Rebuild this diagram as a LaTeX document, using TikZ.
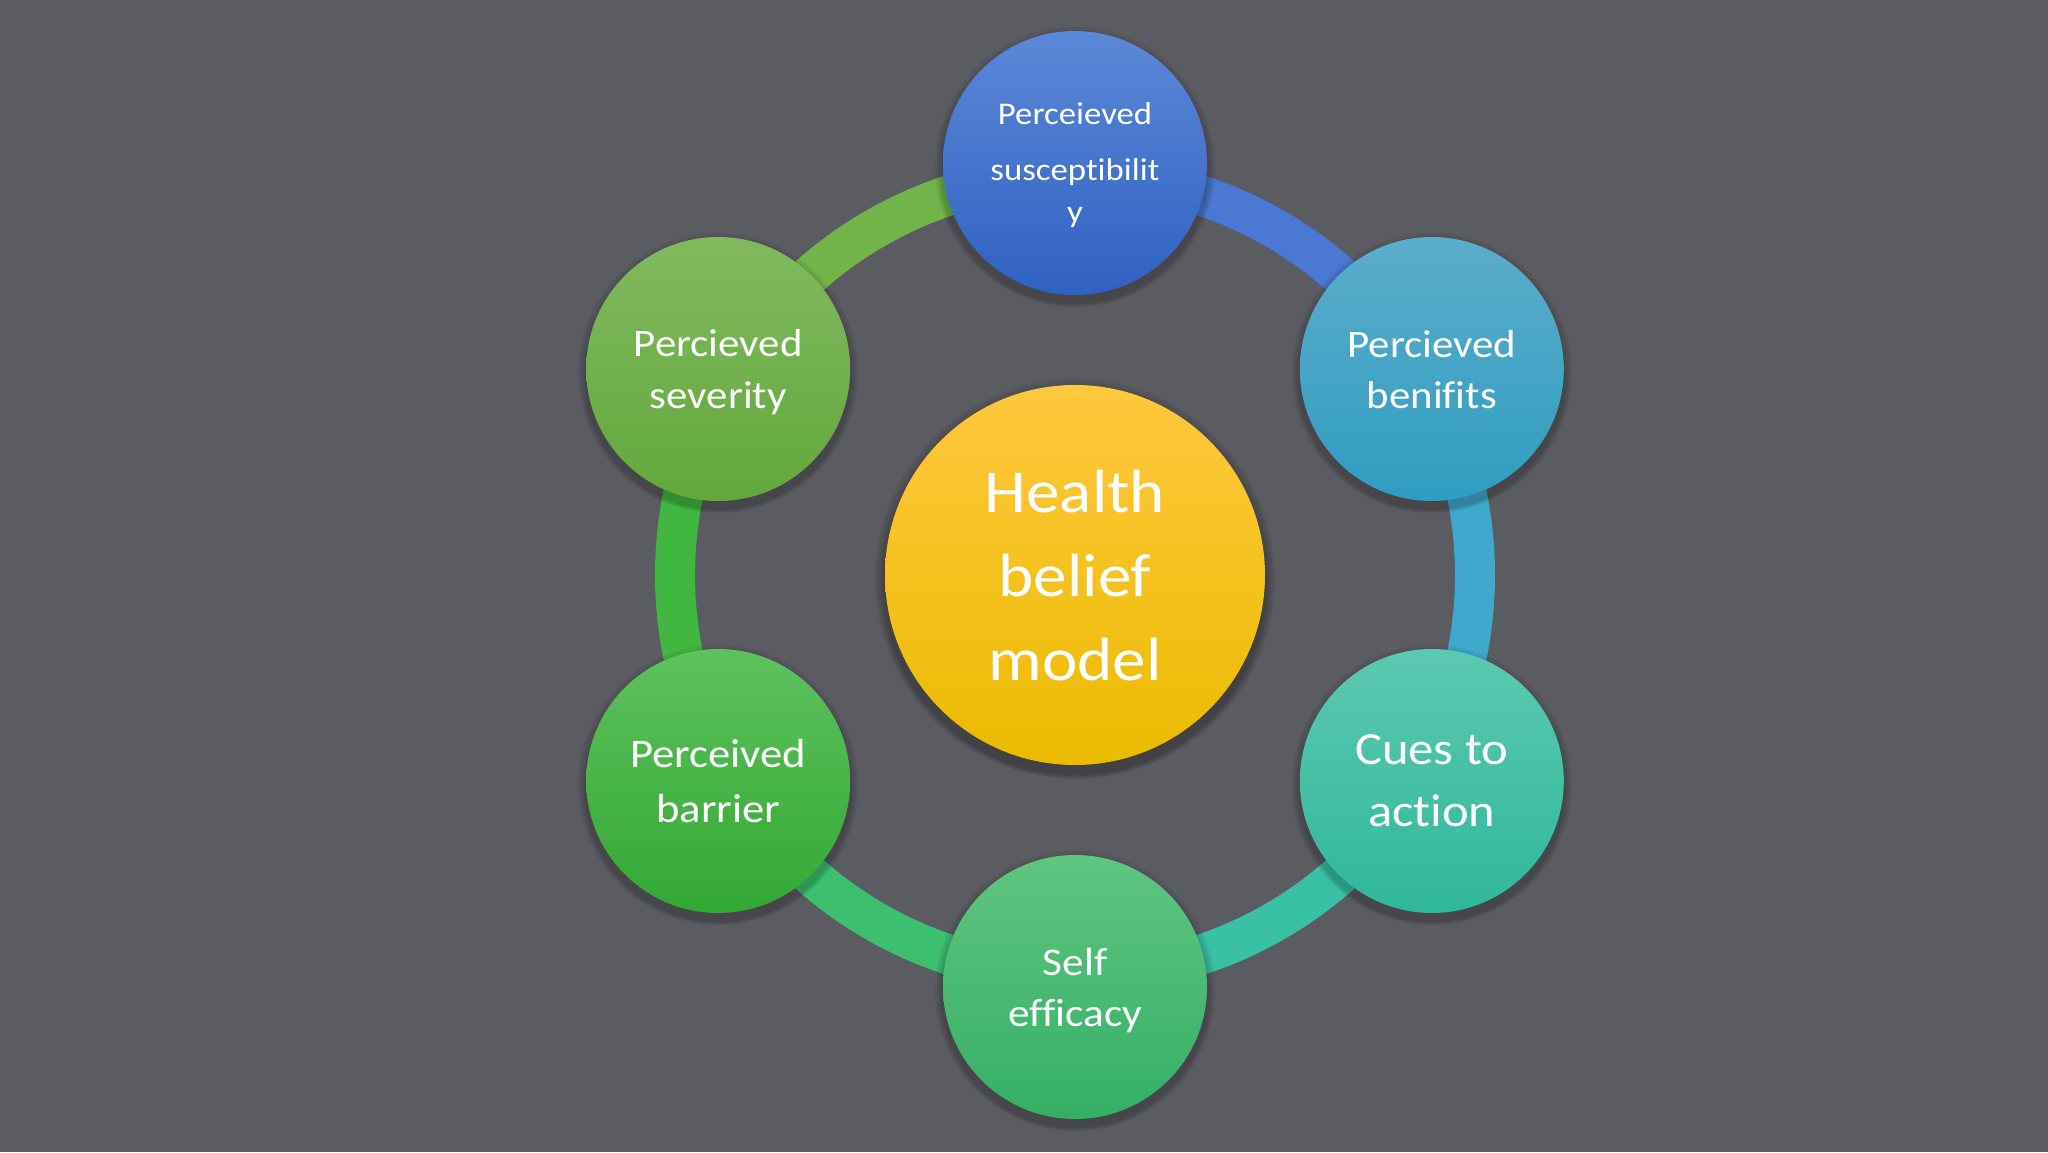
\documentclass[tikz,border=0pt]{standalone}
\usepackage{fontspec}
\setmainfont[FakeStretch=1.1, Ligatures=NoCommon]{Carlito}
\usetikzlibrary{calc}
\definecolor{bg}{HTML}{5B5C62}
\definecolor{hT}{HTML}{FFC83E}
\definecolor{hB}{HTML}{EABB00}
\definecolor{aT}{HTML}{5C88D8}
\definecolor{aB}{HTML}{3061C2}
\definecolor{bT}{HTML}{5CADCB}
\definecolor{bB}{HTML}{2F9DC0}
\definecolor{cT}{HTML}{5CC9B1}
\definecolor{cB}{HTML}{2FB79C}
\definecolor{dT}{HTML}{60C580}
\definecolor{dB}{HTML}{34AF66}
\definecolor{eT}{HTML}{5EC15E}
\definecolor{eB}{HTML}{33A833}
\definecolor{fT}{HTML}{82B95E}
\definecolor{fB}{HTML}{62A83C}
\definecolor{rA}{HTML}{4A78D2}
\definecolor{rB}{HTML}{40A8CC}
\definecolor{rC}{HTML}{3AC0A4}
\definecolor{rD}{HTML}{3CC070}
\definecolor{rE}{HTML}{40B840}
\definecolor{rF}{HTML}{72B44A}
\pgfdeclarelayer{bglayer}
\pgfdeclarelayer{ringlayer}
\pgfsetlayers{bglayer,ringlayer,main}
\tikzset{
  sat/.style={circle, inner sep=0pt, minimum size=132pt, text=white, align=center, text depth=0pt},
  hub/.style={circle, inner sep=0pt, minimum size=190pt, text=white, align=center, text depth=0pt},
  ringseg/.style={line width=20pt},
  shade1/.style={fill=black, fill opacity=0.06}
}
\begin{document}
\begin{tikzpicture}[x=0.5pt,y=0.5pt]
\begin{pgfonlayer}{bglayer}
\fill[bg] (-1075,-577) rectangle (973,575);
\end{pgfonlayer}
\useasboundingbox (-1075,-577) rectangle (973,575);
% ring anchor points
\foreach \a/\n in {90/1,30/2,-30/3,-90/4,-150/5,150/6}
  \coordinate (r\n) at (\a:400);
\begin{pgfonlayer}{ringlayer}
\draw[ringseg, rA] (r1) arc[start angle=90, end angle=30, radius=400];
\draw[ringseg, rB] (r2) arc[start angle=30, end angle=-30, radius=400];
\draw[ringseg, rC] (r3) arc[start angle=-30, end angle=-90, radius=400];
\draw[ringseg, rD] (r4) arc[start angle=-90, end angle=-150, radius=400];
\draw[ringseg, rE] (r5) arc[start angle=210, end angle=150, radius=400];
\draw[ringseg, rF] (r6) arc[start angle=150, end angle=90, radius=400];
\end{pgfonlayer}
% shadows
\foreach \a in {90,30,-30,-90,-150,150}{
  \foreach \d/\s in {2/7,4/6,6/5,8/4}
    \fill[shade1] ($(\a:412)+(0,-\s)$) circle[radius=132+\d];
}
\foreach \d/\s in {2/8,4/7,6/6,8/5,10/4}
  \fill[shade1] (0,-\s) circle[radius=190+\d];
% nodes
\node[hub, top color=hT, bottom color=hB, font=\fontsize{30.5}{42}\selectfont] (hbm) at (0,0) {Health\\belief\\model};
\node[sat, top color=aT, bottom color=aB, font=\fontsize{15.8}{21}\selectfont] (s1) at (90:412) {Perceieved\\[7pt]susceptibilit\\y};
\node[sat, top color=bT, bottom color=bB, font=\fontsize{19.5}{25.5}\selectfont] (s2) at (30:412) {Percieved\\benifits};
\node[sat, top color=cT, bottom color=cB, font=\fontsize{23}{31}\selectfont] (s3) at (-30:412) {Cues to\\action};
\node[sat, top color=dT, bottom color=dB, font=\fontsize{19.7}{25.5}\selectfont] (s4) at (-90:412) {Self\\efficacy};
\node[sat, top color=eT, bottom color=eB, font=\fontsize{20.3}{27.5}\selectfont] (s5) at (-150:412) {Perceived\\barrier};
\node[sat, top color=fT, bottom color=fB, font=\fontsize{19.5}{26}\selectfont] (s6) at (150:412) {Percieved\\severity};
\end{tikzpicture}
\end{document}
